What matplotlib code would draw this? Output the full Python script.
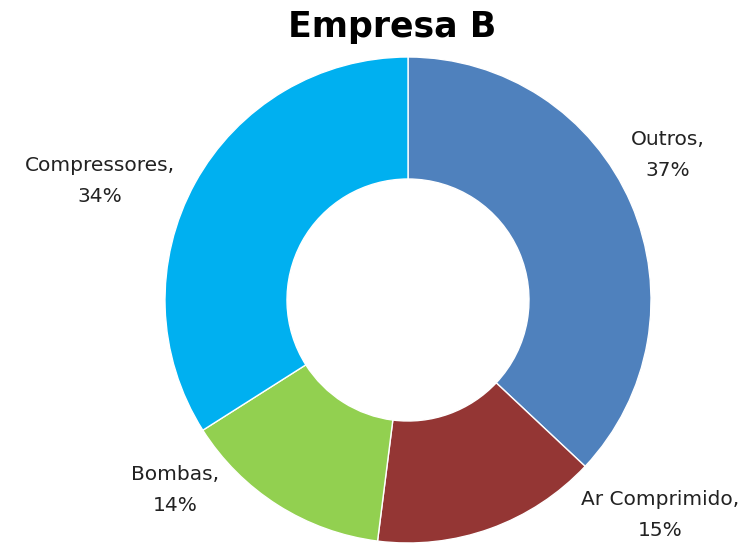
import matplotlib
matplotlib.use("Agg")
import matplotlib.pyplot as plt

categories = ["Outros", "Ar Comprimido", "Bombas", "Compressores"]
values = [37, 15, 14, 34]
colors = ["#4F81BD", "#943634", "#92D050", "#00B0F0"]

W, H = 750, 543
fig = plt.figure(figsize=(7.5, 5.43), dpi=100)
ax = fig.add_axes([0, 0, 1, 1])

# donut, clockwise from 12 o'clock
ax.pie(values, colors=colors, startangle=90, counterclock=False,
       center=(408, H - 300), radius=243,
       wedgeprops=dict(width=122, edgecolor="white", linewidth=1))
ax.set_xlim(0, W)
ax.set_ylim(0, H)
ax.set_aspect("equal")
ax.axis("off")

# labels (pixel positions from the reference, y measured from top)
label_pos = [(668, 155), (660, 515), (175, 490), (100, 181)]
for name, v, (x, y) in zip(categories, values, label_pos):
    ax.text(x, H - y, f"{name},\n{v}%", ha="center", va="center",
            fontsize=14.5, color="#222222", linespacing=1.75)

fig.text(0.523, 1 - 27 / H, "Empresa B", ha="center", va="center",
         fontsize=25, fontweight="bold")

fig.savefig("out.png", dpi=100, facecolor="white")
